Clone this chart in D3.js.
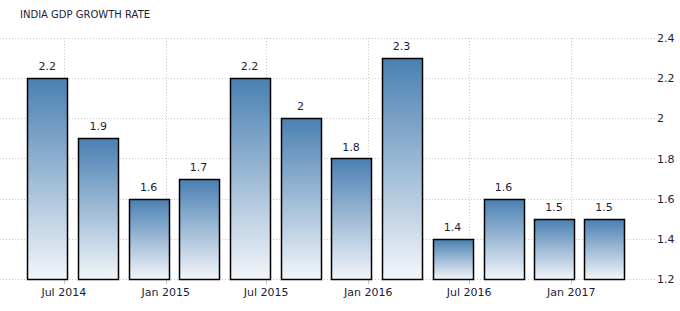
<!DOCTYPE html>
<html>
<head>
<meta charset="utf-8">
<script src="https://cdn.jsdelivr.net/npm/d3@7"></script>
<style>
  body { margin: 0; background: #fff; }
  text { font-family: "DejaVu Sans", Verdana, sans-serif; fill: #1c1c3c; }
</style>
</head>
<body>
<svg id="chart" width="680" height="311"></svg>
<script>
'use strict';

// data
var quarters = ['2014-06-01', '2014-09-01', '2014-12-01', '2015-03-01', '2015-06-01', '2015-09-01',
                '2015-12-01', '2016-03-01', '2016-06-01', '2016-09-01', '2016-12-01', '2017-03-01'];
var growth = [2.2, 1.9, 1.6, 1.7, 2.2, 2, 1.8, 2.3, 1.4, 1.6, 1.5, 1.5];
var yTicks = [1.2, 1.4, 1.6, 1.8, 2, 2.2, 2.4];
var xTicks = ['2014-07-01', '2015-01-01', '2015-07-01', '2016-01-01', '2016-07-01', '2017-01-01'];
var title = 'INDIA GDP GROWTH RATE';

var parse = d3.timeParse('%Y-%m-%d');
var data = quarters.map(function (q, i) { return { date: parse(q), value: growth[i] }; });

var svg = d3.select('#chart');

var x = d3.scaleTime()
  .domain([parse('2014-03-08'), parse('2017-06-01')])
  .range([0, 655]);
var y = d3.scaleLinear().domain([1.2, 2.4]).range([279, 38]);
var barW = 40;

// gradient for bars
var grad = svg.append('defs').append('linearGradient')
  .attr('id', 'barGrad').attr('x1', 0).attr('y1', 0).attr('x2', 0).attr('y2', 1);
grad.append('stop').attr('offset', '0%').attr('stop-color', '#4a80b2');
grad.append('stop').attr('offset', '100%').attr('stop-color', '#f3f6fa');

// title
svg.append('text').attr('x', 20).attr('y', 18)
  .style('font-size', '10px').text(title);

// horizontal grid + right axis labels
svg.selectAll('.hgrid').data(yTicks).enter().append('line')
  .attr('x1', 0).attr('x2', 655)
  .attr('y1', function (d) { return Math.round(y(d)) + 0.5; })
  .attr('y2', function (d) { return Math.round(y(d)) + 0.5; })
  .attr('stroke', '#c8c8c8').attr('stroke-dasharray', '1,2');

svg.selectAll('.ylab').data(yTicks).enter().append('text')
  .attr('x', 657).attr('y', function (d) { return y(d) + 4; })
  .style('font-size', '11px')
  .text(function (d) { return d3.format('')(d); });

// vertical grid + ticks
var xt = xTicks.map(parse);
svg.selectAll('.vgrid').data(xt).enter().append('line')
  .attr('x1', function (d) { return Math.round(x(d)) + 0.5; })
  .attr('x2', function (d) { return Math.round(x(d)) + 0.5; })
  .attr('y1', 38).attr('y2', 279)
  .attr('stroke', '#c8c8c8').attr('stroke-dasharray', '1,2');

svg.selectAll('.xtick').data(xt).enter().append('line')
  .attr('x1', function (d) { return Math.round(x(d)) + 0.5; })
  .attr('x2', function (d) { return Math.round(x(d)) + 0.5; })
  .attr('y1', 279).attr('y2', 284)
  .attr('stroke', '#c8c8c8');

svg.selectAll('.xlab').data(xt).enter().append('text')
  .attr('x', function (d) { return x(d); }).attr('y', 296)
  .attr('text-anchor', 'middle')
  .style('font-size', '11px')
  .text(function (d) { return d3.timeFormat('%b %Y')(d); });

// bars
svg.selectAll('.bar').data(data).enter().append('rect')
  .attr('x', function (d) { return Math.round(x(d.date) - barW / 2) + 0.5; })
  .attr('y', function (d) { return Math.round(y(d.value)) + 0.5; })
  .attr('width', barW)
  .attr('height', function (d) { return Math.round(y(1.2)) - Math.round(y(d.value)); })
  .attr('fill', 'url(#barGrad)')
  .attr('stroke', '#000').attr('stroke-width', 1.5);

// value labels
svg.selectAll('.vlab').data(data).enter().append('text')
  .attr('x', function (d) { return x(d.date); })
  .attr('y', function (d) { return y(d.value) - 8; })
  .attr('text-anchor', 'middle')
  .style('font-size', '11px')
  .text(function (d) { return d.value; });
</script>
</body>
</html>
